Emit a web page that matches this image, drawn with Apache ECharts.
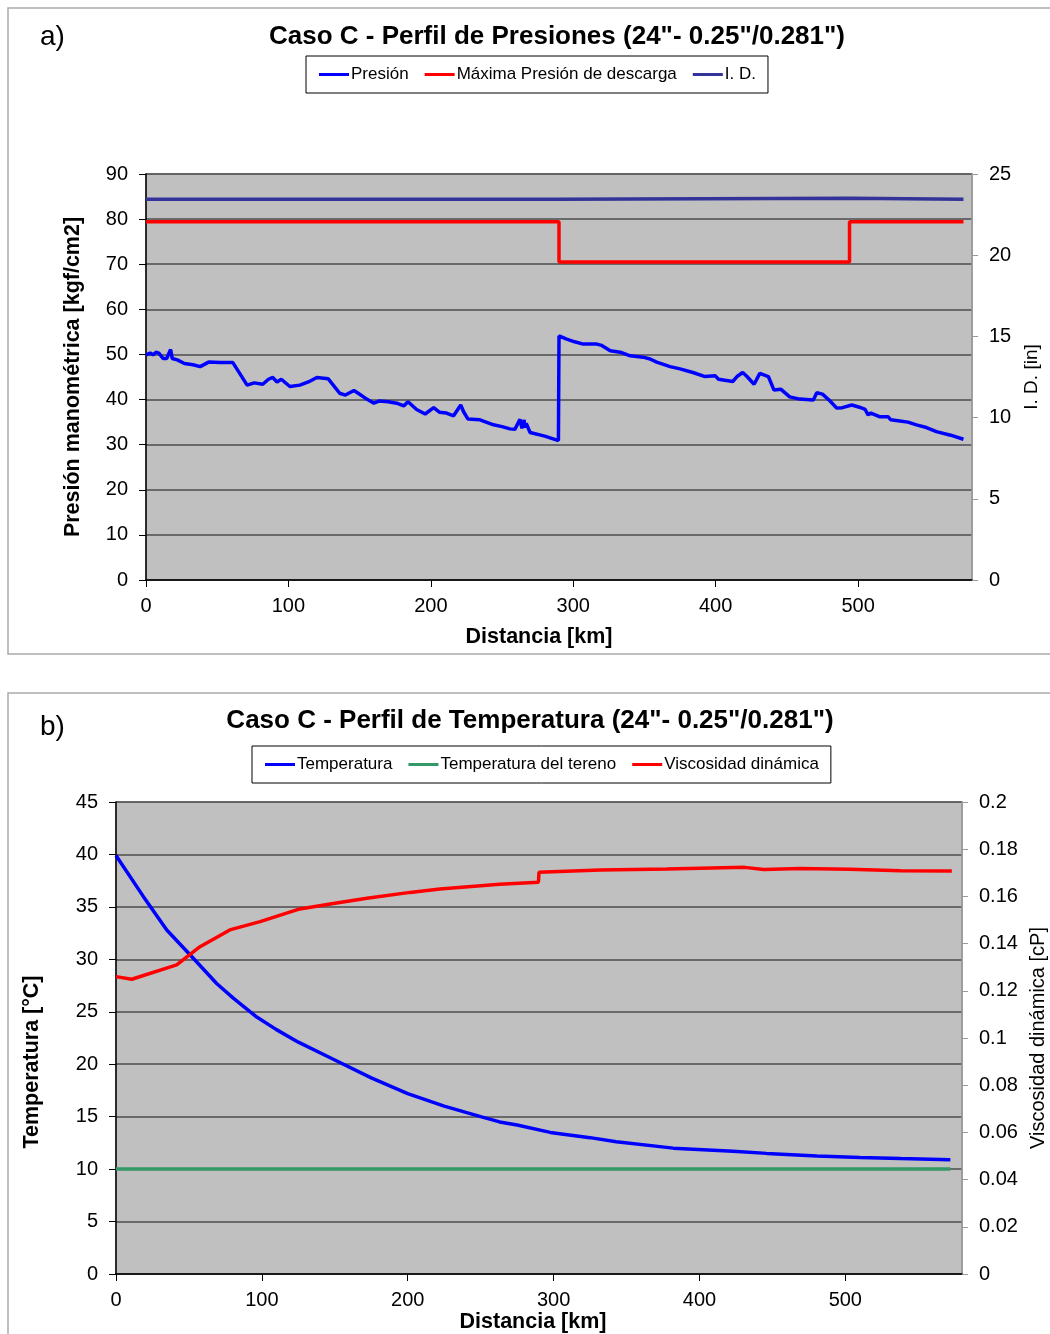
<!DOCTYPE html>
<html>
<head>
<meta charset="utf-8">
<style>
  html, body { margin: 0; padding: 0; background: #fff; }
  #chart { width: 1050px; height: 1334px; }
</style>
<script src="https://cdn.jsdelivr.net/npm/echarts@6/dist/echarts.min.js"></script>
</head>
<body>
<div id="chart"></div>
<script>
// ---- a) Pressure profile ----
const presKm = [0, 3, 5, 7, 9, 12, 14.5, 17.3, 18.4, 22, 27, 33, 38, 41, 44, 52, 61, 65, 71, 76, 82, 86, 89, 92, 95, 101, 108, 114, 120, 128, 136, 140, 146, 149, 155, 160, 164, 170, 176, 181, 184, 190, 196, 202, 206, 211, 216, 221, 223, 224, 226, 234.5, 244, 250, 255.6, 257, 259, 262.6, 264, 265.5, 266, 267, 269.7, 280, 289.6,
  290, 291, 295.4, 301, 307, 316.5, 320, 326, 333, 340, 349, 354, 358.6, 360, 368, 375, 384, 392.6, 399.6, 402, 403, 412, 415, 419, 422, 427, 431, 437, 441, 445.7, 452, 459, 468.6, 471, 475, 480, 485, 489, 495.6, 501, 505, 507, 509, 515, 521, 523, 528, 529, 535, 541, 548, 555, 565, 574];
const presVal = [49.9, 50.3, 49.9, 50.5, 50.3, 49.1, 49.1, 51.1, 49.1, 48.8, 48.0, 47.7, 47.3, 47.8, 48.3, 48.2, 48.2, 46.2, 43.2, 43.7, 43.4, 44.5, 44.9, 43.9, 44.5, 42.9, 43.2, 43.9, 44.9, 44.6, 41.4, 41.0, 42.0, 41.4, 40.1, 39.2, 39.7, 39.5, 39.2, 38.6, 39.5, 37.8, 36.8, 38.2, 37.2, 37.0, 36.4, 38.8, 37.3, 37.6, 35.7, 35.5, 34.4, 34.0, 33.5, 33.8, 33.4, 35.6, 33.6, 35.5, 33.8, 34.7, 32.7, 31.9, 30.9,
  54.1, 53.9, 53.4, 52.8, 52.3, 52.3, 52.0, 50.8, 50.5, 49.7, 49.4, 49.0, 48.3, 48.4, 47.3, 46.8, 46.0, 45.1, 45.3, 44.5, 44.9, 44.0, 45.1, 46.0, 45.1, 43.4, 45.8, 45.1, 42.1, 42.3, 40.6, 40.1, 39.9, 41.5, 41.2, 39.8, 38.1, 38.2, 38.8, 38.3, 37.8, 36.6, 37.0, 36.2, 36.2, 35.5, 35.3, 35.7, 35.0, 34.4, 33.8, 32.9, 32.1, 31.2];

const maxPresKm  = [0, 290, 290, 494, 494, 574];
const maxPresVal = [79.4, 79.4, 70.5, 70.5, 79.4, 79.4];

const idKm  = [0, 290, 290, 494, 494, 574];
const idVal = [23.438, 23.438, 23.5, 23.5, 23.438, 23.438];

// ---- b) Temperature profile ----
const tempKm  = [0, 18.7, 34.8, 53, 69, 80.4, 96.5, 110, 125, 150, 175, 200, 225, 250, 263, 275, 297.7, 325, 343, 382, 423, 446, 480.5, 510, 538, 572];
const tempVal = [39.9, 36.0, 32.8, 30.1, 27.7, 26.3, 24.5, 23.3, 22.1, 20.4, 18.7, 17.2, 16.0, 15.0, 14.5, 14.2, 13.5, 13.0, 12.6, 12.0, 11.7, 11.5, 11.25, 11.1, 11.0, 10.9];

const groundKm  = [0, 572];
const groundVal = [10, 10];

const viscKm  = [0, 10.8, 41.6, 57.6, 78, 98.8, 126, 149, 172, 201.6, 222, 263, 289.6, 290, 332, 377.7, 431, 444, 469, 503, 538, 573];
const viscVal = [0.126, 0.1249, 0.131, 0.1387, 0.1458, 0.1493, 0.1547, 0.157, 0.1592, 0.1617, 0.1631, 0.1651, 0.166, 0.1702, 0.1712, 0.1716, 0.1723, 0.1714, 0.1718, 0.1715, 0.1709, 0.1708];

// tick settings
const xMax = 580, xStep = 100;
const presMax = 90, presStep = 10;
const idMax = 25, idStep = 5;
const tempMax = 45, tempStep = 5;
const viscMax = 0.2, viscStep = 0.02;

const zip = (a, b) => a.map((v, i) => [v, b[i]]);

const FONT = '"Liberation Sans", Arial, sans-serif';
const tickLabel = { fontFamily: FONT, fontSize: 20, color: '#000' };

function xAxisFor(grid) {
  return {
    type: 'value', gridIndex: grid, min: 0, max: xMax, interval: xStep,
    axisLine: { show: true, onZero: false, lineStyle: { color: '#000', width: 1.5 } },
    axisTick: { show: true, length: 7, lineStyle: { color: '#000' } },
    axisLabel: Object.assign({ margin: 16, showMaxLabel: false }, tickLabel),
    splitLine: { show: false }
  };
}

function leftAxis(grid, max, step, name, nameGap) {
  return {
    type: 'value', gridIndex: grid, position: 'left', min: 0, max: max, interval: step,
    name: name, nameLocation: 'middle', nameGap: nameGap,
    nameTextStyle: { fontFamily: FONT, fontSize: 21.5, fontWeight: 'bold', color: '#000' },
    axisLine: { show: true, lineStyle: { color: '#000', width: 1.5 } },
    axisTick: { show: true, length: 7, lineStyle: { color: '#000' } },
    axisLabel: Object.assign({ margin: 18 }, tickLabel),
    splitLine: { show: true, lineStyle: { color: '#4d4d4d', width: 1.5 } }
  };
}

function rightAxis(grid, max, step, name, nameGap, nameSize, fmt) {
  return {
    type: 'value', gridIndex: grid, position: 'right', min: 0, max: max, interval: step,
    name: name, nameLocation: 'middle', nameGap: nameGap,
    nameTextStyle: { fontFamily: FONT, fontSize: nameSize, color: '#000' },
    axisLine: { show: true, lineStyle: { color: '#999', width: 1.5 } },
    axisTick: { show: true, length: 6, lineStyle: { color: '#999' } },
    axisLabel: Object.assign({ margin: 17, formatter: fmt }, tickLabel),
    splitLine: { show: false }
  };
}

function lineSeries(name, data, color, xi, yi) {
  return {
    name: name, type: 'line', data: data, xAxisIndex: xi, yAxisIndex: yi,
    showSymbol: false, symbol: 'none', smooth: false, animation: false,
    lineStyle: { color: color, width: 3.5 }, itemStyle: { color: color }
  };
}

const legendBase = {
  orient: 'horizontal', icon: 'rect', itemWidth: 30, itemHeight: 3, itemGap: 16,
  borderColor: '#000', borderWidth: 1, backgroundColor: '#fff',
  padding: [10, 12, 10, 13],
  textStyle: { fontFamily: FONT, fontSize: 17, color: '#000', padding: [0, 0, 0, -3] }
};

function label(text, x, y, font, rotate) {
  return { type: 'text', x: x, y: y, rotation: rotate ? Math.PI / 2 : 0,
    style: { text: text, font: font, fill: '#000', textAlign: 'center', textVerticalAlign: 'middle' } };
}

const gridBase = { show: true, backgroundColor: '#c0c0c0', borderColor: '#999', borderWidth: 1.5, containLabel: false, outerBoundsMode: 'none' };

const option = {
  animation: false,
  backgroundColor: '#fff',
  graphic: [
    { type: 'rect', shape: { x: 8, y: 8, width: 1060, height: 646 }, style: { fill: 'none', stroke: '#aaa', lineWidth: 1.5 }, z: -10 },
    { type: 'rect', shape: { x: 8, y: 693, width: 1060, height: 660 }, style: { fill: 'none', stroke: '#aaa', lineWidth: 1.5 }, z: -10 },
    { type: 'text', left: 40, top: 23, style: { text: 'a)', font: '28px ' + FONT, fill: '#000' } },
    { type: 'text', left: 40, top: 713, style: { text: 'b)', font: '28px ' + FONT, fill: '#000' } },
    label('Caso C - Perfil de Presiones (24"- 0.25"/0.281")', 557, 37, 'bold 26px ' + FONT),
    label('Caso C - Perfil de Temperatura (24"- 0.25"/0.281")', 530, 721, 'bold 26px ' + FONT),
    label('Distancia [km]', 539, 637, 'bold 21.5px ' + FONT),
    label('Distancia [km]', 533, 1322, 'bold 21.5px ' + FONT),
    label('Temperatura [°C]', 32, 1062, 'bold 21.5px ' + FONT, true)
  ],
  legend: [
    Object.assign({}, legendBase, { left: 306, top: 56, data: ['Presión', 'Máxima Presión de descarga', 'I. D.'] }),
    Object.assign({}, legendBase, { left: 252, top: 746, data: ['Temperatura', 'Temperatura del tereno', 'Viscosidad dinámica'] })
  ],
  grid: [
    Object.assign({ left: 146, top: 174, width: 826, height: 406 }, gridBase),
    Object.assign({ left: 116, top: 802, width: 846, height: 472 }, gridBase)
  ],
  xAxis: [xAxisFor(0), xAxisFor(1)],
  yAxis: [
    leftAxis(0, presMax, presStep, 'Presión manométrica [kgf/cm2]', 62),
    rightAxis(0, idMax, idStep, 'I. D. [in]', 44, 19, v => String(v)),
    leftAxis(1, tempMax, tempStep, '', 70),
    rightAxis(1, viscMax, viscStep, 'Viscosidad dinámica [cP]', 60, 20, v => String(parseFloat(v.toFixed(2))))
  ],
  series: [
    lineSeries('Presión', zip(presKm, presVal), '#0000ff', 0, 0),
    lineSeries('Máxima Presión de descarga', zip(maxPresKm, maxPresVal), '#ff0000', 0, 0),
    lineSeries('I. D.', zip(idKm, idVal), '#333399', 0, 1),
    lineSeries('Temperatura', zip(tempKm, tempVal), '#0000ff', 1, 2),
    lineSeries('Temperatura del tereno', zip(groundKm, groundVal), '#339966', 1, 2),
    lineSeries('Viscosidad dinámica', zip(viscKm, viscVal), '#ff0000', 1, 3)
  ]
};

const chart = echarts.init(document.getElementById('chart'), null, { renderer: 'canvas' });
chart.setOption(option);
</script>
</body>
</html>
